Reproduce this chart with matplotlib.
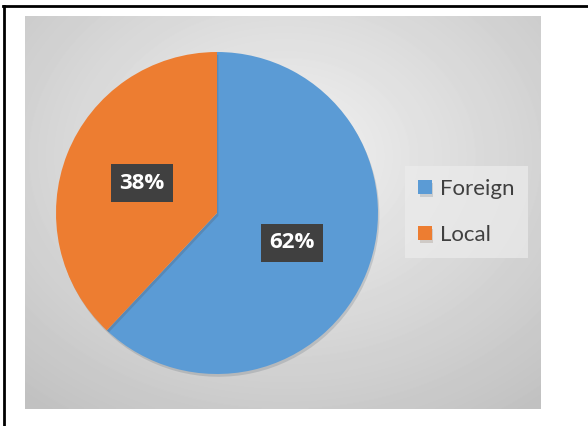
import numpy as np
import matplotlib.pyplot as plt
import matplotlib.patheffects as pe

labels = ['Foreign', 'Local']
shares = [62, 38]
colors = ['#5B9BD5', '#ED7D31']

W, H = 588, 426
fig = plt.figure(figsize=(W / 100, H / 100), dpi=100)
fig.patch.set_facecolor('white')


def px_box(x0, y0, x1, y1):
    # pixel rectangle (top-left origin) -> figure fraction
    return [x0 / W, 1 - y1 / H, (x1 - x0) / W, (y1 - y0) / H]


# grey gradient panel
bg = fig.add_axes(px_box(25, 16, 541, 409))
yy, xx = np.mgrid[0:393, 0:516]
d = np.sqrt(((xx - 260) / 420) ** 2 + ((yy - 140) / 330) ** 2)
shade = np.clip(0.95 - 0.2 * d, 0.76, 0.95)
bg.imshow(shade, cmap='gray', vmin=0, vmax=1, aspect='auto', interpolation='bilinear')
bg.axis('off')

# pie
ax = fig.add_axes(px_box(56, 52, 378, 374))
wedges, texts, autotexts = ax.pie(
    shares, colors=colors, startangle=90, counterclock=False,
    autopct='%1.0f%%', pctdistance=0.5,
    wedgeprops=dict(linewidth=0),
    textprops=dict(color='white', fontsize=16, fontweight='bold', family='Open Sans'))
for w in wedges:
    w.set_path_effects([pe.SimplePatchShadow(offset=(1, -2), alpha=0.15), pe.Normal()])
for t in autotexts:
    t.set_bbox(dict(boxstyle='square,pad=0.38', facecolor='#404040', edgecolor='none'))
ax.set_xlim(-1, 1)
ax.set_ylim(-1, 1)
ax.set_aspect('equal')
ax.axis('off')

leg = fig.legend(wedges, labels, loc='center left',
                 bbox_to_anchor=(405 / W, 1 - 212 / H), borderaxespad=0,
                 frameon=True, fancybox=False, handlelength=0.6, handleheight=0.6,
                 handletextpad=0.38, labelspacing=1.15, borderpad=0.6,
                 prop=dict(family='Lato', size=16))
leg.get_frame().set_facecolor('#ececec')
leg.get_frame().set_edgecolor('none')
leg.get_frame().set_alpha(0.7)
for t in leg.get_texts():
    t.set_color('#404040')

# outer border (top and left edges visible)
fig.add_artist(plt.Line2D([3 / W, 1], [1 - 5.5 / H, 1 - 5.5 / H], color='black', lw=2))
fig.add_artist(plt.Line2D([4 / W, 4 / W], [0, 1 - 5.5 / H], color='black', lw=2))

fig.savefig('out.png', dpi=100)
